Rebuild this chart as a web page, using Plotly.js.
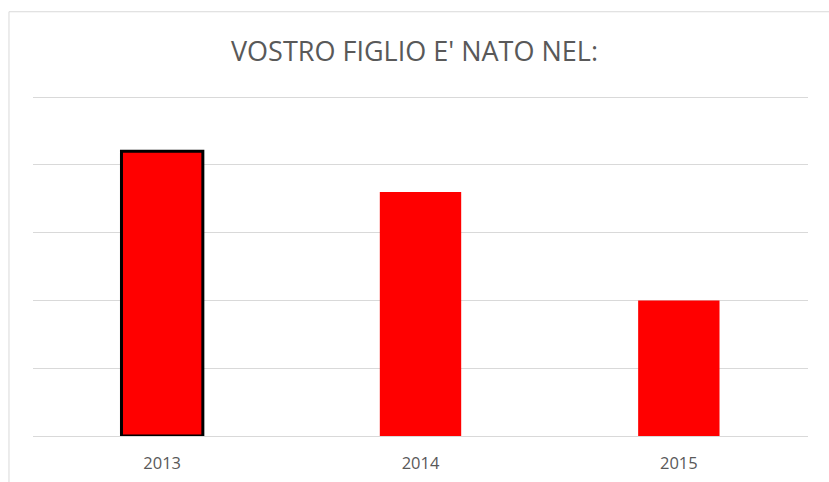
<!DOCTYPE html>
<html>
<head>
<meta charset="utf-8">
<script src="https://cdn.plot.ly/plotly-3.0.1.min.js"></script>
<style>html,body{margin:0;padding:0;background:#fff;}#chart{width:829px;height:482px;}</style>
</head>
<body>
<div id="chart"></div>
<script>
const categories = ["2013", "2014", "2015"];
const values = [21, 18, 10];
const outlineWidths = [3, 0, 0];
const titleText = "VOSTRO FIGLIO E' NATO NEL:";

const trace = {
  type: "bar",
  x: categories,
  y: values,
  marker: {color: "#ff0000", line: {color: "#000000", width: outlineWidths}},
  hoverinfo: "x+y"
};

const layout = {
  width: 829, height: 482,
  margin: {l: 33, r: 21, t: 96, b: 46},
  paper_bgcolor: "#ffffff", plot_bgcolor: "#ffffff",
  bargap: 0.685,
  showlegend: false,
  title: {text: titleText, x: 0.5, xanchor: "center", y: 0.894, yanchor: "middle",
          font: {family: "Open Sans, sans-serif", size: 27, color: "#595959"}},
  xaxis: {type: "category", showgrid: false, showline: false, zeroline: false,
          ticks: "outside", ticklen: 12, tickcolor: "rgba(0,0,0,0)",
          tickfont: {family: "Open Sans, sans-serif", size: 16.5, color: "#595959"}},
  yaxis: {range: [0, 25.08], tickvals: [0, 5, 10, 15, 20, 25], showticklabels: false,
          gridcolor: "#d9d9d9", gridwidth: 1,
          zeroline: true, zerolinecolor: "#d9d9d9", zerolinewidth: 1, showline: false},
  shapes: [{type: "rect", xref: "paper", yref: "paper", x0: -0.031, x1: 1.2, y0: -0.5, y1: 1.2478,
            line: {color: "#d9d9d9", width: 1}, fillcolor: "rgba(0,0,0,0)", layer: "below"}]
};

Plotly.newPlot("chart", [trace], layout, {displayModeBar: false, staticPlot: true});
</script>
</body>
</html>
